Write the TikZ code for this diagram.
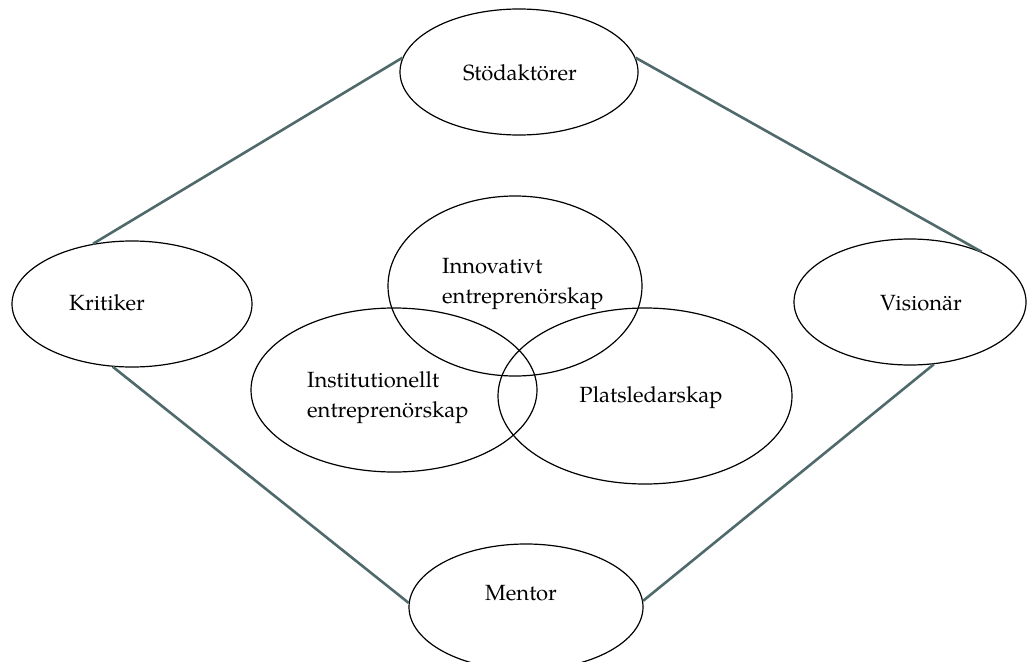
\documentclass[tikz,border=0pt]{standalone}
\usepackage{fontspec}
\setmainfont{TeX Gyre Pagella}
\usetikzlibrary{shapes.geometric}

\definecolor{linkgrey}{RGB}{80,106,108}

\tikzset{
  ring/.style={draw=black, line width=1.2pt, ellipse, inner sep=0pt},
  label/.style={inner sep=0pt, font=\fontsize{22}{30}\selectfont},
  link/.style={draw=linkgrey, line width=2.6pt}
}

\begin{document}
\begin{tikzpicture}[x=1pt, y=-1pt]
  \useasboundingbox[fill=white] (0,0) rectangle (1027,661);

  % outer roles
  \node[ring, minimum width=238pt, minimum height=126pt] (stod) at (519,72) {};
  \node[ring, minimum width=240pt, minimum height=126pt] (krit) at (132,304) {};
  \node[ring, minimum width=232pt, minimum height=126pt] (vis)  at (910,302) {};
  \node[ring, minimum width=234pt, minimum height=126pt] (ment) at (526,607) {};

  % inner overlapping fields
  \node[ring, minimum width=254pt, minimum height=180pt] (innov) at (515,286) {};
  \node[ring, minimum width=286pt, minimum height=164pt] (inst)  at (394,390) {};
  \node[ring, minimum width=294pt, minimum height=176pt] (plats) at (645,396) {};

  % texts
  \node[label] (tstod)  at (520,73)  {Stödaktörer};
  \node[label] (tkrit)  at (107,303) {Kritiker};
  \node[label] (tvis)   at (921,303) {Visionär};
  \node[label] (tment)  at (521,593) {Mentor};
  \node[label, anchor=west, align=left] (tinnov) at (442,284) {Innovativt\\entreprenörskap};
  \node[label, anchor=west, align=left] (tinst)  at (307,398) {Institutionellt\\entreprenörskap};
  \node[label] (tplats) at (651,398) {Platsledarskap};

  % connecting lines forming the diamond
  \draw[link] (krit.123) -- (stod.173);
  \draw[link] (stod.7)   -- (vis.35);
  \draw[link] (krit.253) -- (ment.178);
  \draw[link] (vis.291)  -- (ment.3);
\end{tikzpicture}
\end{document}
